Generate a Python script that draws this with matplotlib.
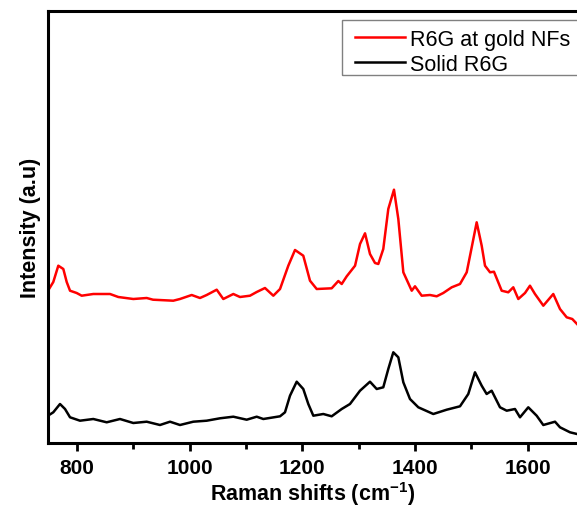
"""Raman spectra: R6G on gold NFs vs solid R6G"""

import matplotlib
matplotlib.use('Agg')
import matplotlib.pyplot as plt
from matplotlib.patches import Rectangle
from matplotlib.ticker import MultipleLocator

plt.rcParams['font.family'] = ['Liberation Sans', 'DejaVu Sans']
plt.rcParams['mathtext.fontset'] = 'custom'
plt.rcParams['mathtext.bf'] = 'Liberation Sans:bold'
plt.rcParams['mathtext.rm'] = 'Liberation Sans:bold'
plt.rcParams['mathtext.default'] = 'bf'

# R6G at gold NFs (red)
red_x = [748.5, 757.9, 766.8, 775.7, 781.7, 787.6, 799.4, 808.3, 828.9, 858.6,
         873.3, 899.9, 923.7, 934.9, 970.9, 982.8, 1003.6, 1018.3, 1030.2, 1048.0,
         1059.7, 1077.5, 1089.3, 1107.1, 1119.0, 1133.7, 1148.5, 1160.4, 1175.1, 1187.0,
         1201.7, 1213.6, 1225.5, 1252.1, 1263.9, 1269.9, 1278.8, 1293.6, 1302.4, 1311.3,
         1320.1, 1329.0, 1334.9, 1343.7, 1352.6, 1362.7, 1370.4, 1379.3, 1394.2, 1400.0,
         1411.9, 1426.6, 1438.5, 1450.2, 1465.2, 1479.9, 1491.8, 1500.7, 1509.5, 1518.4,
         1524.3, 1533.2, 1540.2, 1553.9, 1565.6, 1574.5, 1583.4, 1595.3, 1604.1, 1613.0,
         1627.8, 1645.5, 1657.4, 1669.3, 1679.2, 1687.6]
red_y = [152.3, 161, 177.3, 174, 161, 152.3, 150, 147.3, 149, 149,
         146, 144, 145, 143.3, 142.3, 144, 148, 145, 148, 153.3,
         144, 149, 146, 147.3, 151, 155, 147.3, 154, 177.3, 193,
         187.3, 162.3, 154, 154.7, 162, 159, 166.7, 177.3, 199, 209.7,
         189, 180, 179, 194, 234, 253.3, 224, 170.7, 152.3, 156.7,
         147.3, 148, 146.7, 150, 155.7, 159, 170.7, 195.7, 220.7, 197.3,
         177.3, 170.7, 171.3, 152.3, 150.7, 155.7, 144, 150, 157.3, 149,
         137.3, 149, 134, 125.7, 124, 119]

# Solid R6G (black)
black_x = [748.5, 757.9, 769.8, 778.7, 787.6, 805.3, 828.9, 852.7, 876.3, 899.9,
           923.7, 947.3, 965.1, 982.8, 1006.4, 1030.2, 1053.8, 1077.5, 1101.2, 1119.0,
           1130.7, 1160.4, 1169.2, 1178.1, 1190.0, 1201.7, 1210.6, 1219.5, 1237.2, 1252.1,
           1269.9, 1284.6, 1302.4, 1320.1, 1332.0, 1343.7, 1352.6, 1361.5, 1370.4, 1379.3,
           1391.1, 1405.9, 1432.5, 1456.3, 1479.9, 1494.6, 1506.5, 1518.4, 1527.2, 1536.1,
           1550.9, 1562.8, 1577.5, 1586.4, 1601.1, 1616.0, 1627.8, 1648.6, 1657.4, 1675.2,
           1687.6]
black_y = [27.3, 30.7, 39, 34, 25.7, 22.3, 24, 20.7, 24, 20,
           21.3, 18, 21.3, 18, 21.3, 22.3, 24.7, 26.3, 23.3, 26.3,
           24, 26.7, 30.7, 47.3, 61.3, 54, 39, 27.3, 29, 26.7,
           34, 39, 52.3, 61.3, 54, 55.7, 74, 90.7, 85.7, 60.7,
           44, 35.7, 29, 33.3, 36.7, 49, 70.7, 57.3, 49, 52.3,
           35.7, 32.3, 34, 25.7, 35.7, 27.3, 18, 21.3, 15.7, 10.7,
           9]

W, H = 577, 510
fig = plt.figure(figsize=(W / 100, H / 100), dpi=100)
ax = fig.add_axes([48 / W, 66 / H, 529 / W, 432 / H])

ax.plot(red_x, red_y, color='#ff0000', linewidth=1.8, label='R6G at gold NFs')
ax.plot(black_x, black_y, color='black', linewidth=1.8, label='Solid R6G')

ax.set_xlim(748.5, 1687.6)
ax.set_ylim(0, 432)

for side in ['left', 'bottom', 'top']:
    ax.spines[side].set_linewidth(2.2)
ax.spines['right'].set_visible(False)

ax.xaxis.set_major_locator(MultipleLocator(200))
ax.xaxis.set_minor_locator(MultipleLocator(100))
ax.tick_params(axis='x', which='major', direction='out', length=6, width=2, labelsize=15, pad=5)
ax.tick_params(axis='x', which='minor', direction='out', length=4, width=2)
ax.tick_params(axis='y', left=False, labelleft=False)
for lbl in ax.get_xticklabels():
    lbl.set_fontweight('bold')

ax.set_xlabel('Raman shifts (cm$^{-1}$)', fontsize=15.5, fontweight='bold', labelpad=1)
ax.set_ylabel('Intensity (a.u)', fontsize=15.5, fontweight='bold', labelpad=5)

# legend: entries without frame, box drawn separately (runs off the right edge)
leg = ax.legend(loc='upper left', bbox_to_anchor=(355 / W, 1 - 30 / H),
                bbox_transform=fig.transFigure, fontsize=15.5, frameon=False,
                handlelength=2.3, borderpad=0, labelspacing=0.17,
                handletextpad=0.25, borderaxespad=0)
box = Rectangle((342 / W, 1 - 76 / H), 0.5, 55 / H, transform=fig.transFigure,
                fill=False, edgecolor='#808080', linewidth=1.0)
fig.add_artist(box)

fig.savefig('out.png', dpi=100)
